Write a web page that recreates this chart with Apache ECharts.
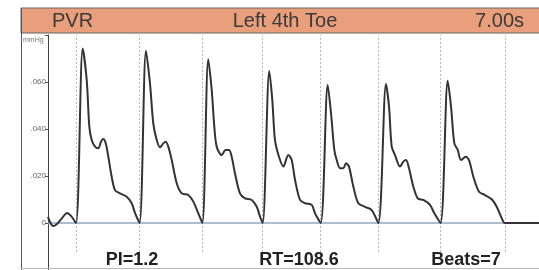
<!DOCTYPE html>
<html>
<head>
<meta charset="utf-8">
<title>PVR - Left 4th Toe</title>
<script src="https://cdn.jsdelivr.net/npm/echarts@6/dist/echarts.min.js"></script>
<style>
    html, body { margin: 0; padding: 0; background: #fff; }
    #chart { width: 539px; height: 270px; }
</style>
</head>
<body>
<div id="chart"></div>
<script>
    // header / footer texts
    var headerLabels = ['PVR', 'Left 4th Toe', '7.00s'];
    var footerStats = ['PI=1.2', 'RT=108.6', 'Beats=7'];

    // y ticks (mmHg)
    var yTicks = [0, 0.02, 0.04, 0.06];

    // beat onsets (s) - dotted markers
    var beatOnsets = [0.399, 1.305, 2.200, 3.061, 3.888, 4.709, 5.596, 6.516];

    // trace, [time s, mmHg]
    var leadIn = [[0, 0.0026], [0.029, 0.0004], [0.071, -0.0013], [0.128, -0.0004], [0.200, 0.0021], [0.271, 0.0043], [0.328, 0.0030]];
    var beat1 = [[0.399, 0], [0.495, 0.0743], [0.552, 0.0608], [0.589, 0.0410], [0.623, 0.0353], [0.670, 0.0325], [0.717, 0.0318], [0.756, 0.0346], [0.788, 0.0357], [0.823, 0.0339], [0.860, 0.0282], [0.908, 0.0197], [0.955, 0.0140], [1.027, 0.0126], [1.122, 0.0112], [1.193, 0.0084], [1.240, 0.0043]];
    var beat2 = [[1.305, 0], [1.397, 0.0733], [1.454, 0.0594], [1.501, 0.0424], [1.550, 0.0353], [1.597, 0.0322], [1.644, 0.0339], [1.678, 0.0346], [1.715, 0.0325], [1.764, 0.0268], [1.835, 0.0169], [1.906, 0.0126], [2.000, 0.0119], [2.072, 0.0091], [2.143, 0.0041]];
    var beat3 = [[2.200, 0], [2.285, 0.0697], [2.334, 0.0566], [2.371, 0.0410], [2.405, 0.0325], [2.476, 0.0289], [2.533, 0.0311], [2.581, 0.0311], [2.619, 0.0282], [2.666, 0.0211], [2.737, 0.0126], [2.809, 0.0105], [2.904, 0.0098], [2.976, 0.0069], [3.023, 0.0027]];
    var beat4 = [[3.061, 0], [3.155, 0.0647], [3.198, 0.0523], [3.236, 0.0353], [3.293, 0.0282], [3.355, 0.0240], [3.426, 0.0289], [3.474, 0.0268], [3.522, 0.0183], [3.593, 0.0098], [3.664, 0.0084], [3.760, 0.0077], [3.807, 0.0041]];
    var beat5 = [[3.888, 0], [3.988, 0.0587], [4.035, 0.0467], [4.082, 0.0311], [4.116, 0.0268], [4.163, 0.0233], [4.210, 0.0233], [4.249, 0.0254], [4.291, 0.0240], [4.353, 0.0155], [4.424, 0.0084], [4.520, 0.0069], [4.615, 0.0055]];
    var beat6 = [[4.709, 0], [4.819, 0.0591], [4.862, 0.0495], [4.900, 0.0325], [4.947, 0.0289], [5.018, 0.0240], [5.066, 0.0261], [5.104, 0.0268], [5.147, 0.0233], [5.208, 0.0155], [5.271, 0.0105], [5.351, 0.0098], [5.446, 0.0077], [5.508, 0.0041]];
    var beat7 = [[5.596, 0], [5.699, 0.0605], [5.746, 0.0495], [5.793, 0.0339], [5.841, 0.0311], [5.888, 0.0268], [5.955, 0.0282], [6.002, 0.0268], [6.064, 0.0197], [6.145, 0.0133], [6.230, 0.0119], [6.326, 0.0101], [6.397, 0.0069], [6.491, 0.0006]];
    var tail = [[6.516, 0], [7.0, 0]];

    var trace = [].concat(leadIn, beat1, beat2, beat3, beat4, beat5, beat6, beat7, tail);

    var font = '"Liberation Sans", Arial, sans-serif';

    var onsetLines = beatOnsets.map(function (t) {
        return [{ coord: [t, -0.0123] }, { coord: [t, 0.08] }];
    });

    var chart = echarts.init(document.getElementById('chart'));
    chart.setOption({
        animation: false,
        backgroundColor: '#fff',
        grid: { left: 48, right: 0, top: 35, bottom: 0 },
        xAxis: {
            type: 'value',
            min: 0,
            max: 7,
            show: false
        },
        yAxis: {
            type: 'value',
            min: -0.02,
            max: 0.08,
            interval: 0.02,
            axisLine: { show: true, lineStyle: { color: '#444', width: 1 } },
            axisTick: { show: true, length: 3, lineStyle: { color: '#555' } },
            splitLine: { show: false },
            axisLabel: {
                margin: 2,
                fontSize: 8,
                color: '#666',
                fontFamily: font,
                formatter: function (v) {
                    var hit = yTicks.filter(function (y) { return Math.abs(y - v) < 1e-9; });
                    if (!hit.length) return '';
                    return v === 0 ? '0' : v.toFixed(3).replace('0.', '.');
                }
            }
        },
        series: [
            {
                // dotted onset lines + baseline
                type: 'line',
                data: [],
                z: 1,
                markLine: {
                    silent: true,
                    z: 1,
                    symbol: ['none', 'none'],
                    label: { show: false },
                    lineStyle: { color: '#b5b5b5', type: [2, 2], width: 1 },
                    data: onsetLines.concat([
                        { yAxis: 0, lineStyle: { color: '#8fa9c2', type: 'solid', width: 1.5 } }
                    ])
                }
            },
            {
                type: 'line',
                data: trace,
                z: 3,
                smooth: 0.3,
                showSymbol: false,
                lineStyle: { color: '#333', width: 2 }
            }
        ],
        graphic: [
            {
                type: 'rect',
                shape: { x: 21, y: 8, width: 530, height: 25 },
                style: { fill: '#e99e7c', stroke: '#666', lineWidth: 1 },
                z: 10
            },
            {
                type: 'line',
                shape: { x1: 21.5, y1: 8, x2: 21.5, y2: 270 },
                style: { stroke: '#555', lineWidth: 1 },
                z: 10
            },
            {
                type: 'line',
                shape: { x1: 21, y1: 268.5, x2: 539, y2: 268.5 },
                style: { stroke: '#bbb', lineWidth: 1 },
                z: 10
            },
            {
                type: 'text', x: 52, y: 21, z: 11,
                style: { text: headerLabels[0], font: '20px ' + font, fill: '#3a3a3a', verticalAlign: 'middle' }
            },
            {
                type: 'text', x: 285, y: 21, z: 11,
                style: { text: headerLabels[1], font: '20px ' + font, fill: '#3a3a3a', align: 'center', verticalAlign: 'middle' }
            },
            {
                type: 'text', x: 524, y: 21, z: 11,
                style: { text: headerLabels[2], font: '20px ' + font, fill: '#3a3a3a', align: 'right', verticalAlign: 'middle' }
            },
            {
                type: 'text', x: 23, y: 40, z: 11,
                style: { text: 'mmHg', font: '7px ' + font, fill: '#777', verticalAlign: 'middle' }
            },
            {
                type: 'text', x: 132, y: 260, z: 11,
                style: { text: footerStats[0], font: 'bold 18px ' + font, fill: '#222', align: 'center', verticalAlign: 'middle' }
            },
            {
                type: 'text', x: 299, y: 260, z: 11,
                style: { text: footerStats[1], font: 'bold 18px ' + font, fill: '#222', align: 'center', verticalAlign: 'middle' }
            },
            {
                type: 'text', x: 466, y: 260, z: 11,
                style: { text: footerStats[2], font: 'bold 18px ' + font, fill: '#222', align: 'center', verticalAlign: 'middle' }
            }
        ]
    });
</script>
</body>
</html>
